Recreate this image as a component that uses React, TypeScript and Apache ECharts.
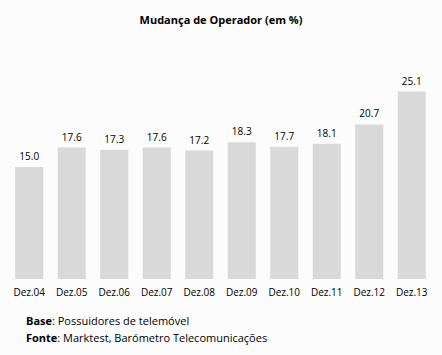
import React, { useEffect, useRef } from "react";
import * as echarts from "echarts";

const categories = ["Dez.04", "Dez.05", "Dez.06", "Dez.07", "Dez.08", "Dez.09", "Dez.10", "Dez.11", "Dez.12", "Dez.13"];
const values = [15.0, 17.6, 17.3, 17.6, 17.2, 18.3, 17.7, 18.1, 20.7, 25.1];
const title = "Mudança de Operador (em %)";
const footerBase = ["Base", ": Possuidores de telemóvel"];
const footerFonte = ["Fonte", ": Marktest, Barómetro Telecomunicações"];

const FONT = "'Open Sans', 'Noto Sans', sans-serif";

export default function App() {
  const ref = useRef<HTMLDivElement>(null);
  useEffect(() => {
    if (!ref.current) return;
    const chart = echarts.init(ref.current, null, { renderer: "svg" });
    chart.setOption({
      animation: false,
      backgroundColor: "#fcfcfc",
      title: {
        text: title,
        left: "center",
        top: 9,
        textStyle: { fontFamily: FONT, fontSize: 11, fontWeight: "bold", color: "#000" },
      },
      grid: { left: 8, right: 9, top: 55, height: 224 },
      xAxis: {
        type: "category",
        data: categories,
        axisLine: { show: false },
        axisTick: { show: false },
        axisLabel: { fontFamily: FONT, fontSize: 10, color: "#000", margin: 8, interval: 0 },
      },
      yAxis: {
        type: "value",
        min: 0,
        max: 30,
        show: false,
        splitLine: { show: false },
      },
      series: [
        {
          type: "bar",
          data: values,
          barCategoryGap: "34%",
          itemStyle: { color: "#d9d9d9" },
          label: {
            show: true,
            position: "top",
            distance: 6,
            formatter: (p: any) => Number(p.value).toFixed(1),
            fontFamily: FONT,
            fontSize: 10,
            color: "#000",
          },
        },
      ],
      graphic: [
        {
          type: "text",
          left: 26,
          top: 315,
          style: {
            text: `{b|${footerBase[0]}}{n|${footerBase[1]}}`,
            rich: {
              b: { fontFamily: FONT, fontSize: 11, fontWeight: "bold", fill: "#000" },
              n: { fontFamily: FONT, fontSize: 11, fill: "#000" },
            },
          },
        },
        {
          type: "text",
          left: 26,
          top: 332,
          style: {
            text: `{b|${footerFonte[0]}}{n|${footerFonte[1]}}`,
            rich: {
              b: { fontFamily: FONT, fontSize: 11, fontWeight: "bold", fill: "#000" },
              n: { fontFamily: FONT, fontSize: 11, fill: "#000" },
            },
          },
        },
      ],
    });
    return () => chart.dispose();
  }, []);
  return <div ref={ref} style={{ width: 442, height: 355, position: "absolute", left: 0, top: 0 }} />;
}
